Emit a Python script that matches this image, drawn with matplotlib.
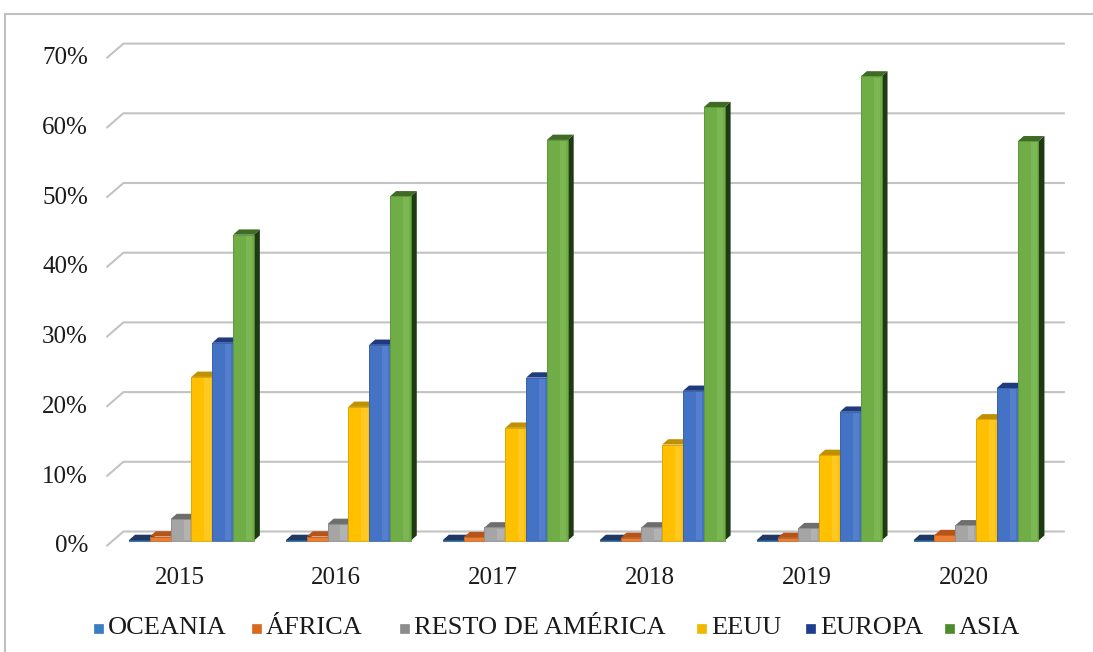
import matplotlib
matplotlib.use("Agg")
import matplotlib.pyplot as plt
from matplotlib.patches import Polygon, Rectangle
from matplotlib.lines import Line2D

# ---- data -------------------------------------------------------------
years = ["2015", "2016", "2017", "2018", "2019", "2020"]
regions = ["OCEANIA", "ÁFRICA", "RESTO DE AMÉRICA", "EEUU", "EUROPA", "ASIA"]
oceania = [0.1, 0.1, 0.1, 0.1, 0.1, 0.1]
africa = [0.6, 0.6, 0.5, 0.4, 0.4, 0.8]
resto_america = [3.1, 2.4, 1.9, 1.9, 1.8, 2.2]
eeuu = [23.5, 19.2, 16.2, 13.8, 12.3, 17.4]
europa = [28.4, 28.1, 23.4, 21.5, 18.5, 21.9]
asia = [43.9, 49.4, 57.5, 62.2, 66.6, 57.3]
y_ticks = [0, 10, 20, 30, 40, 50, 60, 70]
y_tick_labels = ["0%", "10%", "20%", "30%", "40%", "50%", "60%", "70%"]

series = [oceania, africa, resto_america, eeuu, europa, asia]

# front / top / side / highlight / legend colours per series
front_cols = ["#2E75B6", "#ED7D31", "#A5A5A5", "#FFC000", "#4472C4", "#70AD47"]
top_cols = ["#1F3864", "#B5541B", "#6E6E6E", "#BF9000", "#1F3B80", "#3F6B26"]
side_cols = ["#1A3050", "#8A3F12", "#555555", "#8C6A00", "#172C5E", "#1E3A12"]
edge_cols = ["#24598C", "#C0621F", "#8A8A8A", "#D9A300", "#3A62AC", "#5E9639"]
light_cols = ["#5B9BD5", "#F4A36B", "#C4C4C4", "#FFD24D", "#6A90D6", "#8CC466"]
legend_cols = ["#3A7DC0", "#D86A1E", "#8C8C8C", "#F2B800", "#1F3E8C", "#4E8A2E"]

FONT = ["Liberation Serif", "DejaVu Serif"]
plt.rcParams["font.family"] = FONT

W, H, DPI = 1093, 652, 100
fig = plt.figure(figsize=(W / DPI, H / DPI), dpi=DPI)
fig.patch.set_facecolor("white")

# plot area (front plane of the bars) in pixels
px_left, px_right = 113.0, 1054.5
px_base, px_top = 540.7, 52.8
ax = fig.add_axes([px_left / W, (H - px_base) / H,
                   (px_right - px_left) / W, (px_base - px_top) / H])
ax.set_xlim(-0.5, len(years) - 0.5)
ax.set_ylim(0, 70)
ax.axis("off")

# pixel -> data unit factors
sx = (len(years)) / (px_right - px_left)
sy = 70.0 / (px_base - px_top)

# depth vectors in pixels (x right, y up)
bar_depth = (6.0, 5.3)
wall_off = (10.4, 9.2)
floor_off = (-6.6, -5.5)

grid_col = "#C3C3C3"
x_lo, x_hi = -0.5, len(years) - 0.5
for v in y_ticks:
    xs = [x_lo + floor_off[0] * sx, x_lo + wall_off[0] * sx, x_hi + wall_off[0] * sx]
    ys = [v + floor_off[1] * sy, v + wall_off[1] * sy, v + wall_off[1] * sy]
    ax.add_line(Line2D(xs, ys, color=grid_col, lw=1.5, clip_on=False, zorder=1,
                       solid_capstyle="butt"))

# y tick labels on the floor-front plane
for v, lab in zip(y_ticks, y_tick_labels):
    ax.text(x_lo - 25 * sx, v + floor_off[1] * sy, lab, ha="right", va="center",
            fontsize=18, color="#1a1a1a", clip_on=False)

# bars: side face, top face, front face (+ soft highlight band)
n = len(series)
bw = 20.8 * sx
dx, dy = bar_depth[0] * sx, bar_depth[1] * sy
z = 2
for i in range(len(years)):
    for k, vals in enumerate(series):
        v = vals[i]
        x0 = i - n * bw / 2 + k * bw
        x1 = x0 + bw
        ax.add_patch(Polygon([(x1, 0), (x1, v), (x1 + dx, v + dy), (x1 + dx, dy)],
                             closed=True, facecolor=side_cols[k], edgecolor="none",
                             zorder=z, clip_on=False))
        ax.add_patch(Polygon([(x0, v), (x1, v), (x1 + dx, v + dy), (x0 + dx, v + dy)],
                             closed=True, facecolor=top_cols[k], edgecolor="none",
                             zorder=z + 0.1, clip_on=False))
        ax.add_patch(Rectangle((x0, 0), bw, v, facecolor=front_cols[k],
                               edgecolor="none", zorder=z + 0.2, clip_on=False))
        if v > 1:
            ax.add_patch(Rectangle((x0 + 0.62 * bw, 0.15), 0.3 * bw, v - 0.3,
                                   facecolor=light_cols[k], edgecolor="none",
                                   alpha=0.45, zorder=z + 0.3, clip_on=False))
        ax.add_patch(Rectangle((x0, 0), bw, v, facecolor="none",
                               edgecolor=edge_cols[k], lw=0.6, zorder=z + 0.4,
                               clip_on=False))
        z += 1

# category labels
for i, yr in enumerate(years):
    ax.text(i - 12 * sx, -37 * sy, yr, ha="center", va="center", fontsize=18,
            color="#1a1a1a", clip_on=False)

# legend row: marker squares and labels
legend_x = [94, 252, 400, 697, 806, 945]
legend_y = 628
sq = 9
for xp, lab, col in zip(legend_x, regions, legend_cols):
    fig.add_artist(Rectangle((xp / W, (H - legend_y - sq / 2) / H), sq / W, sq / H,
                             facecolor=col, edgecolor=col, lw=0.5,
                             transform=fig.transFigure))
    fig.text((xp + sq + 5) / W, (H - legend_y) / H, lab, ha="left", va="center",
             fontsize=19, color="#1a1a1a")

# outer frame
fig.add_artist(Line2D([5 / W, 1.01], [1 - 14 / H, 1 - 14 / H], color="#C0C0C0",
                      lw=1.5, transform=fig.transFigure))
fig.add_artist(Line2D([5 / W, 5 / W], [1 - 14 / H, -0.01], color="#C0C0C0",
                      lw=1.5, transform=fig.transFigure))

fig.savefig("out.png", dpi=DPI, facecolor="white")
